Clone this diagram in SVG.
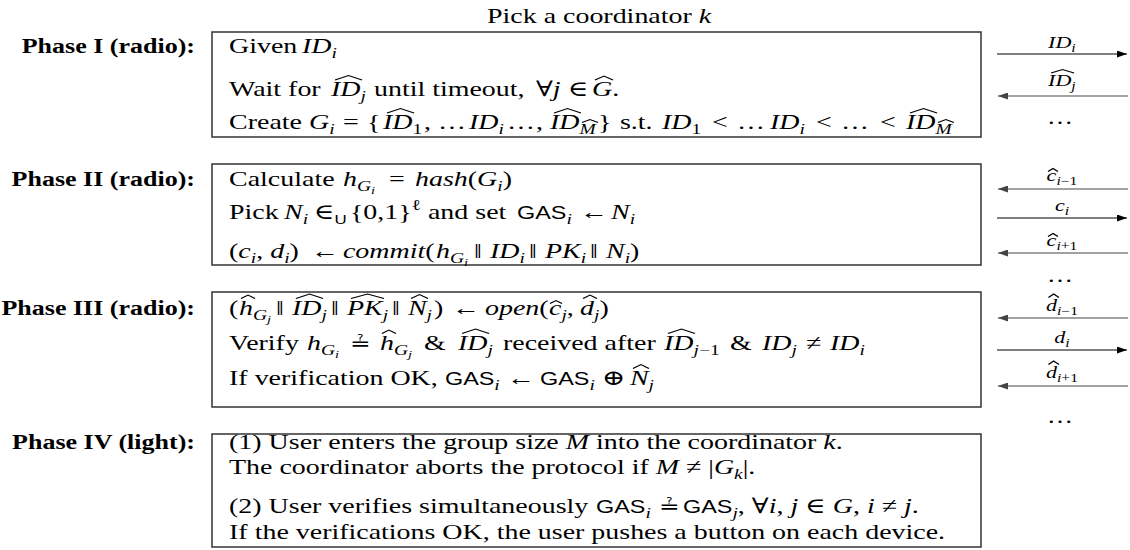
<svg xmlns="http://www.w3.org/2000/svg" width="1130" height="550" viewBox="0 0 1130 550">
<defs>
<marker id="ah" viewBox="0 0 10 7" refX="10" refY="3.5" markerWidth="10" markerHeight="7" markerUnits="userSpaceOnUse" orient="auto"><path d="M0,0 L10,3.5 L0,7 Z" fill="#000"/></marker>
<marker id="ahg" viewBox="0 0 10 7" refX="10" refY="3.5" markerWidth="10" markerHeight="7" markerUnits="userSpaceOnUse" orient="auto"><path d="M0,0 L10,3.5 L0,7 Z" fill="#444"/></marker>
</defs>
<style>
.tx{font-family:"Liberation Serif","DejaVu Serif",serif;font-size:21.5px;fill:#000}
.it{font-style:italic}
.up{font-style:normal}
.sb{font-size:15px}
.ssb{font-size:11px}
.sf{font-family:"Liberation Sans","DejaVu Sans",sans-serif;font-size:18px;font-style:normal}
.sfs{font-family:"Liberation Sans","DejaVu Sans",sans-serif;font-size:13px}
.qe{font-family:"DejaVu Sans",sans-serif;font-size:19px;font-style:normal}
.lb{font-family:"Liberation Serif","DejaVu Serif",serif;font-weight:bold;font-size:20px;text-anchor:end;fill:#000}
.al{font-size:17px}
.als{font-size:12px}
.hat{fill:none;stroke:#000;stroke-width:1}
.box{fill:#fff;stroke:#333;stroke-width:1.5}
.ar{stroke:#000;stroke-width:1.2;marker-end:url(#ah)}
.arg{stroke:#444;stroke-width:1.2;marker-end:url(#ahg)}
</style>
<rect width="1130" height="550" fill="#fff"/>

<g id="header" transform="scale(1.3 1)">
<text class="tx" x="374.6" y="23">Pick a coordinator <tspan class="it">k</tspan></text>
</g>

<g id="phase1">
<rect class="box" x="212" y="32" width="769" height="105"/>
<g transform="scale(1.3 1)">
<text class="lb" x="150" y="53">Phase I (radio):</text>
<text class="tx" y="53"><tspan x="176.2">Given</tspan><tspan x="232.3" class="it">ID</tspan><tspan class="sb it" y="58">i</tspan></text>
<text class="tx" y="96"><tspan x="176.2">Wait for</tspan><tspan x="254.6" class="it">ID</tspan><tspan class="sb it" y="101">j</tspan><tspan x="287.7" y="96">until timeout,</tspan><tspan x="412.3">∀</tspan><tspan class="it">j</tspan><tspan x="436.9">∈</tspan><tspan x="455.4" class="it">G</tspan><tspan>.</tspan></text>
<text class="tx" y="129"><tspan x="176.2">Create</tspan><tspan x="237.7" class="it">G</tspan><tspan class="sb it" y="134">i</tspan><tspan x="263.8" y="129">=</tspan><tspan x="282.3">{</tspan><tspan x="294.6" class="it">ID</tspan><tspan class="sb" y="134">1</tspan><tspan x="326.2" y="129">,</tspan><tspan x="336.9">…</tspan><tspan x="360.8" class="it">ID</tspan><tspan class="sb it" y="134">i</tspan><tspan x="390" y="129">…</tspan><tspan x="412.3">,</tspan><tspan x="423.1" class="it">ID</tspan><tspan class="sb it" y="134">M</tspan><tspan x="460" y="129">}</tspan><tspan x="476.9">s.t.</tspan><tspan x="509.2" class="it">ID</tspan><tspan class="sb" y="134">1</tspan><tspan x="547.7" y="129">&lt;</tspan><tspan x="566.9">…</tspan><tspan x="592.3" class="it">ID</tspan><tspan class="sb it" y="134">i</tspan><tspan x="627.7" y="129">&lt;</tspan><tspan x="646.9">…</tspan><tspan x="676.9">&lt;</tspan><tspan x="696.9" class="it">ID</tspan><tspan class="sb it" y="134">M</tspan></text>
<path class="hat" d="M257.7,80 L268.1,75.5 L278.5,80 M457.7,80 L464.6,76 L471.5,80 M297.7,113 L308.1,108.5 L318.5,113 M426.2,113 L436.5,108.5 L446.9,113 M700,113 L710.4,108.5 L720.8,113 M447.7,122.5 L453.8,119.5 L460,122.5 M721.5,122.5 L727.6,119.5 L733.8,122.5"/>
</g>
</g>

<g id="phase2">
<rect class="box" x="212" y="164" width="769" height="101"/>
<g transform="scale(1.3 1)">
<text class="lb" x="150" y="186">Phase II (radio):</text>
<text class="tx" y="186"><tspan x="176.2">Calculate</tspan><tspan x="263.8" class="it">h</tspan><tspan class="sb it" y="191">G</tspan><tspan class="ssb it" y="194">i</tspan><tspan x="299.2" y="186">=</tspan><tspan x="319.2" class="it">hash</tspan><tspan>(</tspan><tspan class="it">G</tspan><tspan class="sb it" y="191">i</tspan><tspan y="186">)</tspan></text>
<text class="tx" y="219"><tspan x="176.2">Pick</tspan><tspan x="218.5" class="it">N</tspan><tspan class="sb it" y="224">i</tspan><tspan x="241.5" y="219">∈</tspan><tspan class="sfs" y="224">U</tspan><tspan x="269.2" y="219">{0,1}</tspan><tspan class="sb" y="210">ℓ</tspan><tspan x="329.2" y="219">and set</tspan><tspan x="397.7" class="sf">GAS</tspan><tspan class="sb it" y="224">i</tspan><tspan x="446.2" y="219">←</tspan><tspan x="470" class="it">N</tspan><tspan class="sb it" y="224">i</tspan></text>
<text class="tx" y="258"><tspan x="176.2">(</tspan><tspan class="it">c</tspan><tspan class="sb it" y="263">i</tspan><tspan y="258">, </tspan><tspan class="it">d</tspan><tspan class="sb it" y="263">i</tspan><tspan y="258">)</tspan><tspan x="239.2">←</tspan><tspan x="263.8" class="it">commit</tspan><tspan>(</tspan><tspan x="335.4" class="it">h</tspan><tspan class="sb it" y="263">G</tspan><tspan class="ssb it" y="266">i</tspan><tspan x="364.6" y="258">‖</tspan><tspan x="376.9" class="it">ID</tspan><tspan class="sb it" y="263">i</tspan><tspan x="406.9" y="258">‖</tspan><tspan x="419.2" class="it">PK</tspan><tspan class="sb it" y="263">i</tspan><tspan x="453.8" y="258">‖</tspan><tspan x="466.2" class="it">N</tspan><tspan class="sb it" y="263">i</tspan><tspan y="258">)</tspan></text>
</g>
</g>

<g id="phase3">
<rect class="box" x="212" y="292" width="769" height="115"/>
<g transform="scale(1.3 1)">
<text class="lb" x="150" y="315">Phase III (radio):</text>
<text class="tx" y="315"><tspan x="176.2">(</tspan><tspan x="183.8" class="it">h</tspan><tspan class="sb it" y="320">G</tspan><tspan class="ssb it" y="323">j</tspan><tspan x="212.3" y="315">‖</tspan><tspan x="224.6" class="it">ID</tspan><tspan class="sb it" y="320">j</tspan><tspan x="254.6" y="315">‖</tspan><tspan x="266.9" class="it">PK</tspan><tspan class="sb it" y="320">j</tspan><tspan x="301.5" y="315">‖</tspan><tspan x="313.8" class="it">N</tspan><tspan class="sb it" y="320">j</tspan><tspan x="333.8" y="315">)</tspan><tspan x="347.7">←</tspan><tspan x="373.1" class="it">open</tspan><tspan>(</tspan><tspan x="422.3" class="it">c</tspan><tspan class="sb it" y="320">j</tspan><tspan y="315">,</tspan><tspan x="446.2" class="it">d</tspan><tspan class="sb it" y="320">j</tspan><tspan y="315">)</tspan></text>
<text class="tx" y="350"><tspan x="176.2">Verify</tspan><tspan x="236.2" class="it">h</tspan><tspan class="sb it" y="355">G</tspan><tspan class="ssb it" y="358">i</tspan><tspan x="269.2" y="350" class="qe">≟</tspan><tspan x="292.3" class="it">h</tspan><tspan class="sb it" y="355">G</tspan><tspan class="ssb it" y="358">j</tspan><tspan x="326.2" y="350">&amp;</tspan><tspan x="352.3" class="it">ID</tspan><tspan class="sb it" y="355">j</tspan><tspan x="386.9" y="350">received after</tspan><tspan x="510.8" class="it">ID</tspan><tspan class="sb it" y="355">j</tspan><tspan class="sb">−1</tspan><tspan x="561.5" y="350">&amp;</tspan><tspan x="586.2" class="it">ID</tspan><tspan class="sb it" y="355">j</tspan><tspan x="620" y="350">≠</tspan><tspan x="638.5" class="it">ID</tspan><tspan class="sb it" y="355">i</tspan></text>
<text class="tx" y="385"><tspan x="176.2">If verification OK,</tspan><tspan x="342.3" class="sf">GAS</tspan><tspan class="sb it" y="390">i</tspan><tspan x="390" y="385">←</tspan><tspan x="415.4" class="sf">GAS</tspan><tspan class="sb it" y="390">i</tspan><tspan x="463.1" y="385">⊕</tspan><tspan x="484.6" class="it">N</tspan><tspan class="sb it" y="390">j</tspan></text>
<path class="hat" d="M185.4,298.5 L190.8,295 L196.2,298.5 M227.7,298.5 L238.1,294 L248.5,298.5 M270,298.5 L282.7,294 L295.4,298.5 M316.2,298.5 L322.7,294.5 L329.2,298.5 M423.1,303.5 L427.7,300.5 L432.3,303.5 M448.5,298.5 L453.8,295 L459.2,298.5 M293.8,333.5 L299.2,330 L304.6,333.5 M355.4,333.5 L365.8,329 L376.2,333.5 M513.8,333.5 L524.2,329 L534.6,333.5 M486.9,368.5 L493,364.5 L499.2,368.5"/>
</g>
</g>

<g id="phase4">
<rect class="box" x="212" y="434" width="769" height="113"/>
<g transform="scale(1.3 1)">
<text class="lb" x="150" y="449">Phase IV (light):</text>
<text class="tx" x="176.2" y="449">(1) User enters the group size <tspan class="it">M</tspan> into the coordinator <tspan class="it">k</tspan>.</text>
<text class="tx" x="176.2" y="474">The coordinator aborts the protocol if <tspan class="it">M</tspan> ≠ |<tspan class="it">G</tspan><tspan class="sb it" dy="5">k</tspan><tspan dy="-5">|.</tspan></text>
<text class="tx" y="513"><tspan x="176.2">(2) User verifies simultaneously</tspan><tspan x="458.5" class="sf">GAS</tspan><tspan class="sb it" y="518">i</tspan><tspan x="506.9" y="513" class="qe">≟</tspan><tspan x="525.4" class="sf">GAS</tspan><tspan class="sb it" y="518">j</tspan><tspan y="513">,  ∀</tspan><tspan class="it">i</tspan><tspan>, </tspan><tspan class="it">j</tspan><tspan> ∈ </tspan><tspan class="it">G</tspan><tspan>,  </tspan><tspan class="it">i</tspan><tspan> ≠ </tspan><tspan class="it">j</tspan><tspan>.</tspan></text>
<text class="tx" x="176.2" y="539">If the verifications OK, the user pushes a button on each device.</text>
</g>
</g>

<g id="connectors">
<line class="ar" x1="997" y1="54" x2="1127" y2="54"/>
<line class="arg" x1="1128" y1="96" x2="998" y2="96"/>
<line class="arg" x1="1128" y1="189" x2="998" y2="189"/>
<line class="ar" x1="997" y1="218" x2="1127" y2="218"/>
<line class="arg" x1="1128" y1="253" x2="998" y2="253"/>
<line class="arg" x1="1128" y1="318" x2="998" y2="318"/>
<line class="ar" x1="997" y1="350" x2="1127" y2="350"/>
<line class="arg" x1="1128" y1="386" x2="998" y2="386"/>
<g transform="scale(1.3 1)">
<text class="tx al it" x="806.2" y="48">ID<tspan class="als" dy="4">i</tspan></text>
<text class="tx al it" x="806.2" y="86">ID<tspan class="als" dy="4">j</tspan></text>
<text class="tx" x="815.4" y="124" text-anchor="middle" style="font-size:20px">…</text>
<text class="tx al it" x="805.1" y="181">c<tspan class="als" dy="4">i</tspan><tspan class="als up">−1</tspan></text>
<text class="tx al it" x="811.5" y="211">c<tspan class="als" dy="4">i</tspan></text>
<text class="tx al it" x="805.1" y="246">c<tspan class="als" dy="4">i</tspan><tspan class="als up">+1</tspan></text>
<text class="tx" x="815.4" y="282" text-anchor="middle" style="font-size:20px">…</text>
<text class="tx al it" x="804.6" y="311">d<tspan class="als" dy="4">i</tspan><tspan class="als up">−1</tspan></text>
<text class="tx al it" x="811" y="343">d<tspan class="als" dy="4">i</tspan></text>
<text class="tx al it" x="804.6" y="378">d<tspan class="als" dy="4">i</tspan><tspan class="als up">+1</tspan></text>
<text class="tx" x="815.4" y="423" text-anchor="middle" style="font-size:20px">…</text>
<path class="hat" d="M808.5,73 L817.3,69.5 L826.2,73 M806.2,171.5 L810,168.5 L813.8,171.5 M806.2,236.5 L810,233.5 L813.8,236.5 M806.5,297.5 L810.5,294 L814.6,297.5 M806.5,364.5 L810.5,361 L814.6,364.5"/>
</g>
</g>
</svg>
